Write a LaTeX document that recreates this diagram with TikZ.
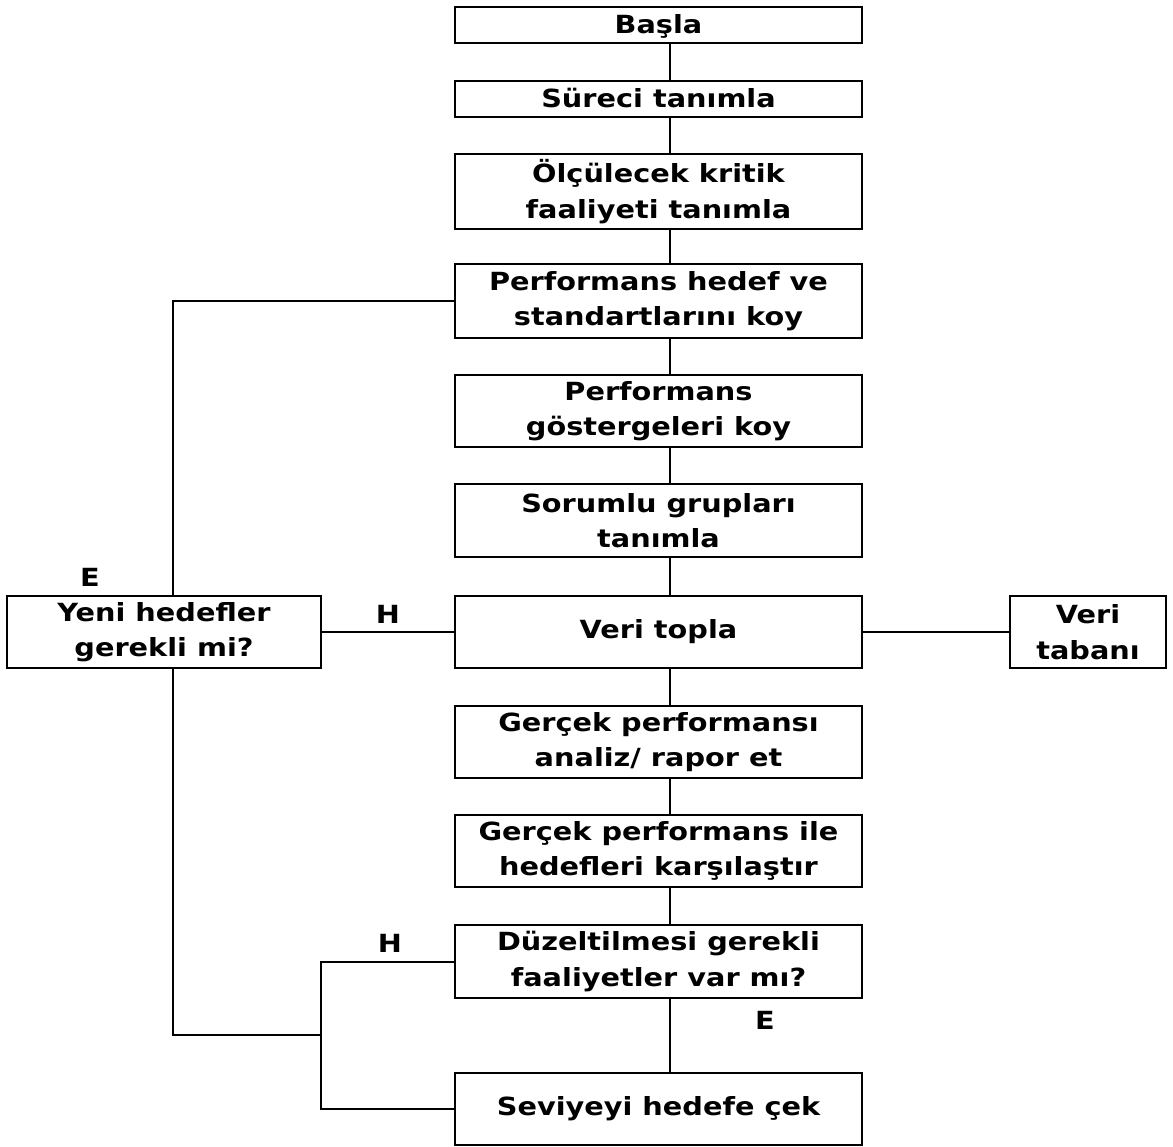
\documentclass[tikz,border=0pt]{standalone}
\usepackage{fontspec}
\setmainfont{DejaVu Sans}[FakeStretch=1.15]
\begin{document}
\begin{tikzpicture}[x=1pt,y=-1pt,
  box/.style={draw, line width=2.5pt, minimum width=407pt, align=center,
    font=\bfseries\fontsize{25}{35.5}\selectfont, inner sep=0pt},
  short/.style={text height=18pt, text depth=0pt},
  conn/.style={line width=2pt},
  lbl/.style={font=\bfseries\fontsize{25}{35}\selectfont, inner sep=0pt}]
\useasboundingbox (0,0) rectangle (1173,1147);
\node[box, short, minimum height=36pt] (start) at (658.5,25) {Başla};
\node[box, short, minimum height=36pt] (sur) at (658.5,99) {Süreci tanımla};
\node[box, minimum height=75pt] (olc) at (658.5,191.5) {Ölçülecek kritik\\faaliyeti tanımla};
\node[box, minimum height=74pt] (perf1) at (658.5,301) {Performans hedef ve\\standartlarını koy};
\node[box, minimum height=72pt] (perf2) at (658.5,411) {Performans\\göstergeleri koy};
\node[box, minimum height=73pt] (sor) at (658.5,520.5) {Sorumlu grupları\\tanımla};
\node[box, minimum height=72pt] (veri) at (658.5,632) {Veri topla};
\node[box, minimum height=72pt] (ger1) at (658.5,742) {Gerçek performansı\\analiz/ rapor et};
\node[box, minimum height=72pt] (ger2) at (658.5,851) {Gerçek performans ile\\hedefleri karşılaştır};
\node[box, minimum height=73pt] (duz) at (658.5,961.5) {Düzeltilmesi gerekli\\faaliyetler var mı?};
\node[box, minimum height=72pt] (sev) at (658.5,1109) {Seviyeyi hedefe çek};
\node[box, minimum height=72pt, minimum width=314pt] (yeni) at (164,632) {Yeni hedefler\\gerekli mi?};
\node[box, minimum height=72pt, minimum width=156pt] (vt) at (1088,632) {Veri\\tabanı};
\coordinate (j) at (321,1035);
\foreach \a/\b in {start/sur, sur/olc, olc/perf1, perf1/perf2, perf2/sor,
                   sor/veri, veri/ger1, ger1/ger2, ger2/duz, duz/sev}
  \draw[conn] ([xshift=11pt]\a.south) -- ([xshift=11pt]\b.north);
\draw[conn] (yeni) -- (veri);
\draw[conn] (veri) -- (vt);
\draw[conn] (perf1.west) -| ([xshift=9pt]yeni.north);
\draw[conn] ([xshift=9pt]yeni.south) |- (j);
\draw[conn] (duz.west) -| (j) |- (sev.west);
\node[lbl] (e1) at (90,577) {E};
\node[lbl] (h1) at (388,614) {H};
\node[lbl] (h2) at (390,943) {H};
\node[lbl] (e2) at (765,1020) {E};
\end{tikzpicture}
\end{document}
